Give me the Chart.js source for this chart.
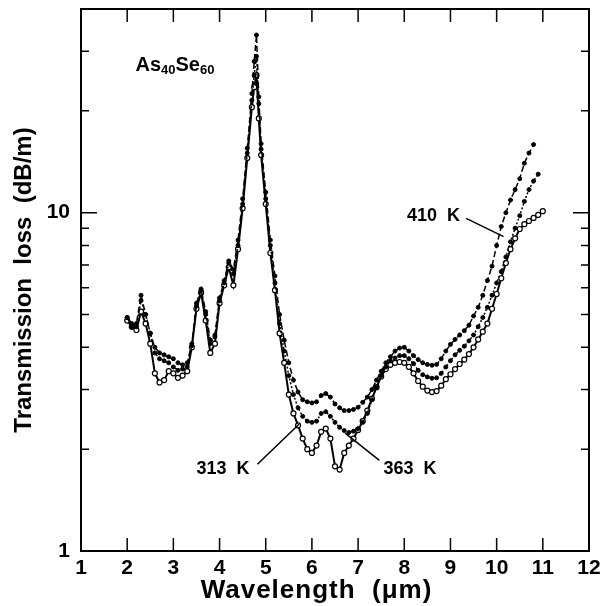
<!DOCTYPE html>
<html>
<head>
<meta charset="utf-8">
<script src="https://cdn.jsdelivr.net/npm/chart.js@4/dist/chart.umd.min.js"></script>
<style>
  html, body { margin: 0; padding: 0; background: #fff; }
  canvas { display: block; }
</style>
</head>
<body>
<canvas id="lossChart" width="609" height="606"></canvas>
<script>
// wavelength in um, transmission loss in dB/m
const wavelength = [
  2.0, 2.1, 2.2, 2.3, 2.4, 2.5, 2.6, 2.7, 2.8, 2.9,
  3.0, 3.1, 3.2, 3.3, 3.4, 3.5, 3.6, 3.7, 3.8, 3.9,
  4.0, 4.1, 4.2, 4.3, 4.4, 4.5, 4.6, 4.7, 4.75, 4.8, 4.85, 4.9,
  5.0, 5.1, 5.2, 5.3, 5.4, 5.5, 5.6, 5.7, 5.8, 5.9,
  6.0, 6.1, 6.2, 6.3, 6.4, 6.5, 6.6, 6.7, 6.8, 6.9,
  7.0, 7.1, 7.2, 7.3, 7.4, 7.5, 7.6, 7.7, 7.8, 7.9,
  8.0, 8.1, 8.2, 8.3, 8.4, 8.5, 8.6, 8.7, 8.8, 8.9,
  9.0, 9.1, 9.2, 9.3, 9.4, 9.5, 9.6, 9.7, 9.8, 9.9,
  10.0, 10.1, 10.2, 10.3, 10.4, 10.5, 10.6, 10.7, 10.8, 10.9,
  11.0
];

const loss313K = [
  4.8, 4.6, 4.5, 5.1, 4.7, 4.1, 3.35, 3.15, 3.2, 3.4,
  3.35, 3.25, 3.3, 3.4, 4.0, 5.2, 5.8, 4.8, 3.85, 4.1,
  5.4, 6.1, 6.9, 6.1, 7.8, 10.3, 14.5, 20.5, 23.5, 25.5, 19.0, 14.8,
  10.6, 7.6, 5.9, 4.4, 3.6, 2.9, 2.55, 2.35, 2.15, 2.0,
  1.95, 2.05, 2.25, 2.3, 2.15, 1.78, 1.74, 1.95, 2.05, 2.15,
  2.28, 2.42, 2.6, 2.82, 3.05, 3.28, 3.45, 3.55, 3.6, 3.62,
  3.6, 3.5, 3.35, 3.18, 3.06, 2.98, 2.95, 2.97, 3.08, 3.22,
  3.33, 3.45, 3.57, 3.68, 3.82, 4.0, 4.22, 4.45, 4.7, 5.2,
  5.75, 6.4, 7.1, 7.8, 8.4, 8.95, 9.25, 9.45, 9.65, 9.85,
  10.1
];

const loss363K = [
  4.9, 4.7, 4.6, 5.5, 5.0, 4.4, 3.85, 3.7, 3.65, 3.6,
  3.5, 3.42, 3.45, 3.5, 4.05, 5.3, 5.9, 5.0, 4.1, 4.3,
  5.5, 6.2, 7.1, 6.6, 8.0, 10.6, 15.0, 21.5, 25.5, 29.0, 21.0, 15.4,
  11.0, 8.0, 6.2, 4.7, 3.9, 3.3, 2.9, 2.65, 2.5, 2.42,
  2.4, 2.42, 2.55, 2.58, 2.5, 2.4, 2.32, 2.27, 2.24, 2.26,
  2.3, 2.4, 2.55, 2.8, 3.05, 3.3, 3.5, 3.65, 3.72, 3.78,
  3.78, 3.7, 3.58, 3.42, 3.32, 3.27, 3.24, 3.25, 3.35, 3.5,
  3.65, 3.8, 3.92, 4.03, 4.18, 4.35, 4.6, 4.9, 5.25, 5.7,
  6.2, 6.7, 7.4, 8.2, 9.0, 9.8, 10.8, 11.7, 12.4, 13.0,
  null
];

const loss410K = [
  4.9, 4.6, 4.7, 5.7, 5.0, 4.4, 4.0, 3.85, 3.8, 3.75,
  3.7, 3.6, 3.55, 3.6, 4.1, 5.4, 5.95, 5.1, 4.2, 4.35,
  5.6, 6.3, 7.2, 6.8, 8.3, 11.0, 15.5, 22.5, 28.0, 33.5, 22.0, 16.0,
  11.5, 8.3, 6.5, 5.0, 4.2, 3.6, 3.2, 2.95, 2.8, 2.76,
  2.74, 2.76, 2.88, 2.92, 2.85, 2.72, 2.65, 2.6, 2.6, 2.62,
  2.66, 2.75, 2.85, 3.0, 3.2, 3.4, 3.6, 3.75, 3.9, 3.98,
  4.0, 3.9, 3.78, 3.68, 3.6, 3.56, 3.54, 3.56, 3.7, 3.9,
  4.08, 4.22, 4.35, 4.48, 4.65, 4.95, 5.25, 5.7, 6.3, 6.95,
  8.0, 9.1, 10.0, 10.9, 11.7, 12.6, 14.0, 15.0, 15.9, null,
  null
];

const xTickMarks = [2, 3, 4, 5, 6, 7, 8, 9, 10, 11];
const yTickMarks = [2, 3, 4, 5, 6, 7, 8, 9, 10, 20, 30];
const yTickLabels = [1, 10];

const FONT = '"Liberation Sans", Arial, sans-serif';

function toPoints(values) {
  return wavelength
    .map((w, i) => ({ x: w, y: values[i] }))
    .filter(p => p.y !== null);
}

// frame + inward tick marks on all four sides
const frameTicks = {
  id: 'frameTicks',
  afterDraw(chart) {
    const { ctx, chartArea: a, scales: { x, y } } = chart;
    ctx.save();
    ctx.strokeStyle = '#000';
    ctx.lineWidth = 2;
    ctx.strokeRect(a.left, a.top, a.right - a.left, a.bottom - a.top);
    ctx.lineWidth = 1.5;
    ctx.beginPath();
    xTickMarks.forEach(v => {
      const px = x.getPixelForValue(v);
      ctx.moveTo(px, a.bottom); ctx.lineTo(px, a.bottom - 13);
      ctx.moveTo(px, a.top); ctx.lineTo(px, a.top + 13);
    });
    yTickMarks.forEach(v => {
      const py = y.getPixelForValue(v);
      const len = v === 10 ? 16 : 8;
      ctx.moveTo(a.left, py); ctx.lineTo(a.left + len, py);
      ctx.moveTo(a.right, py); ctx.lineTo(a.right - len, py);
    });
    ctx.stroke();

    // x axis title, sits a bit left of centre in the original
    ctx.fillStyle = '#000';
    ctx.font = 'bold 26px ' + FONT;
    ctx.letterSpacing = '1px';
    ctx.textAlign = 'center';
    ctx.textBaseline = 'middle';
    ctx.fillText('Wavelength  (\u03bcm)', x.getPixelForValue(6.1), 591);
    ctx.restore();
  }
};

// curve labels with pointer lines, and the composition label
const curveLabels = {
  id: 'curveLabels',
  afterDraw(chart) {
    const { ctx, scales: { x, y } } = chart;
    ctx.save();
    ctx.fillStyle = '#000';
    ctx.strokeStyle = '#000';
    ctx.lineWidth = 1.5;
    ctx.textBaseline = 'middle';
    ctx.font = 'bold 18px ' + FONT;

    const labels = [
      { text: '410  K', tx: 8.06, ty: 9.75, from: [9.34, 9.62], to: [10.15, 8.5] },
      { text: '313  K', tx: 3.5, ty: 1.744, from: [4.82, 1.805], to: [5.72, 2.37] },
      { text: '363  K', tx: 7.55, ty: 1.744, from: [7.46, 1.854], to: [6.72, 2.23] }
    ];
    labels.forEach(l => {
      ctx.textAlign = 'left';
      ctx.fillText(l.text, x.getPixelForValue(l.tx), y.getPixelForValue(l.ty));
      ctx.beginPath();
      ctx.moveTo(x.getPixelForValue(l.from[0]), y.getPixelForValue(l.from[1]));
      ctx.lineTo(x.getPixelForValue(l.to[0]), y.getPixelForValue(l.to[1]));
      ctx.stroke();
    });

    // As40Se60 with subscripts
    let px = x.getPixelForValue(2.18);
    const py = y.getPixelForValue(27.3);
    const parts = [['As', false], ['40', true], ['Se', false], ['60', true]];
    parts.forEach(([t, sub]) => {
      ctx.font = sub ? 'bold 13px ' + FONT : 'bold 20px ' + FONT;
      ctx.fillText(t, px, sub ? py + 5 : py);
      px += ctx.measureText(t).width;
    });
    ctx.restore();
  }
};

const ctx = document.getElementById('lossChart').getContext('2d');
new Chart(ctx, {
  type: 'scatter',
  data: {
    datasets: [
      {
        label: '410 K',
        data: toPoints(loss410K),
        showLine: true,
        borderColor: '#000',
        borderWidth: 1.5,
        borderDash: [6, 3],
        pointRadius: 2,
        pointBackgroundColor: '#000',
        pointBorderColor: '#000',
        pointBorderWidth: 1
      },
      {
        label: '363 K',
        data: toPoints(loss363K),
        showLine: true,
        borderColor: '#000',
        borderWidth: 1.5,
        borderDash: [2, 2],
        pointRadius: 2,
        pointBackgroundColor: '#000',
        pointBorderColor: '#000',
        pointBorderWidth: 1
      },
      {
        label: '313 K',
        data: toPoints(loss313K),
        showLine: true,
        borderColor: '#000',
        borderWidth: 2,
        pointRadius: 2.5,
        pointBackgroundColor: '#fff',
        pointBorderColor: '#000',
        pointBorderWidth: 1.2
      }
    ]
  },
  options: {
    responsive: false,
    animation: false,
    layout: { padding: { top: 9, right: 20, left: 0, bottom: 0 } },
    plugins: {
      legend: { display: false },
      tooltip: { enabled: false }
    },
    scales: {
      x: {
        type: 'linear',
        min: 1,
        max: 12,
        afterFit: scale => {
          scale.height = 55;
          scale.paddingLeft = 0;
          scale.paddingRight = 0;
        },
        grid: { display: false, drawTicks: false },
        border: { display: false },
        ticks: {
          stepSize: 1,
          padding: 5,
          color: '#000',
          font: { size: 21, weight: 'bold', family: FONT }
        }
      },
      y: {
        type: 'logarithmic',
        min: 1,
        max: 40,
        afterFit: scale => {
          scale.width = 81;
          scale.paddingTop = 0;
          scale.paddingBottom = 0;
        },
        afterBuildTicks: scale => { scale.ticks = yTickLabels.map(v => ({ value: v })); },
        grid: { display: false, drawTicks: false },
        border: { display: false },
        ticks: {
          padding: 11,
          color: '#000',
          callback: v => String(v),
          font: { size: 21, weight: 'bold', family: FONT }
        },
        title: {
          display: true,
          text: 'Transmission  loss  (dB/m)',
          color: '#000',
          padding: { top: 10, bottom: 0 },
          font: { size: 24, weight: 'bold', family: FONT }
        }
      }
    }
  },
  plugins: [frameTicks, curveLabels]
});
</script>
</body>
</html>
